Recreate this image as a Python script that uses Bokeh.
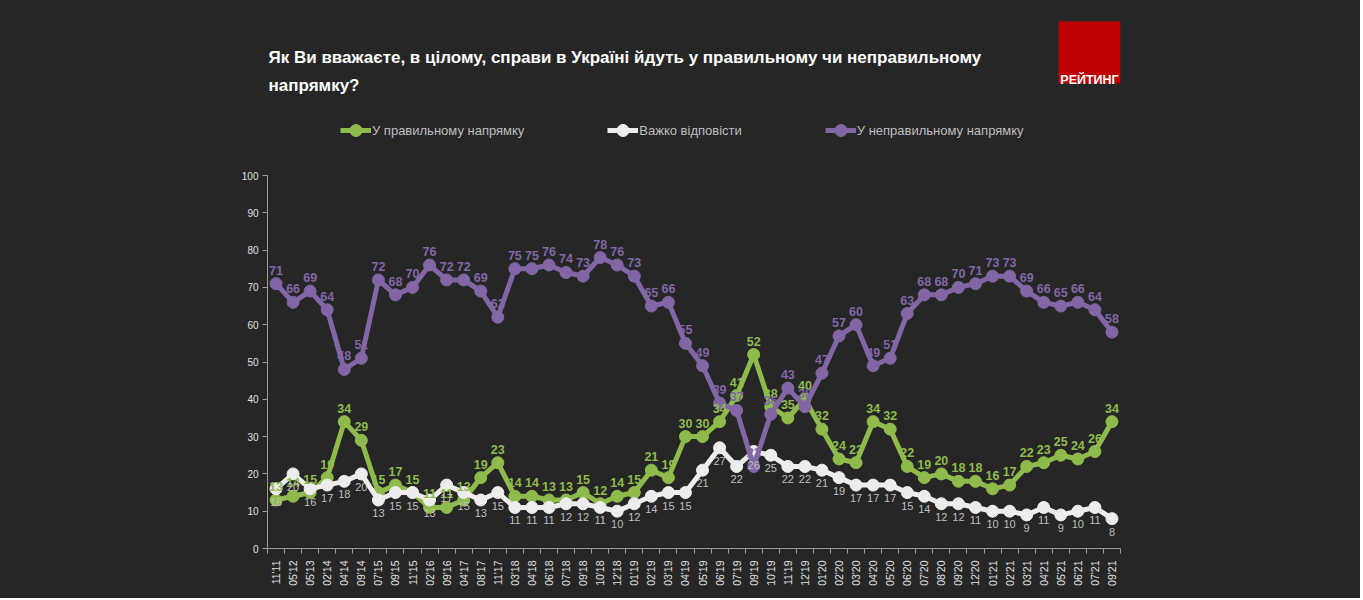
import math
from bokeh.plotting import figure
from bokeh.layouts import column
from bokeh.models import (ColumnDataSource, Range1d, FixedTicker, Label, Legend, LegendItem)
from bokeh.core.properties import value
from bokeh.embed import file_html
from bokeh.resources import INLINE

periods = ["11'11", "05'12", "05'13", "02'14", "04'14", "09'14", "07'15", "09'15", "11'15", "02'16",
           "09'16", "04'17", "08'17", "11'17", "03'18", "04'18", "06'18", "07'18", "09'18", "10'18",
           "12'18", "01'19", "02'19", "03'19", "04'19", "05'19", "06'19", "07'19", "09'19", "10'19",
           "11'19", "12'19", "01'20", "02'20", "03'20", "04'20", "05'20", "06'20", "07'20", "08'20",
           "09'20", "12'20", "01'21", "02'21", "03'21", "04'21", "05'21", "06'21", "07'21", "09'21"]

right_dir = [13, 14, 15, 19, 34, 29, 15, 17, 15, 11,
             11, 13, 19, 23, 14, 14, 13, 13, 15, 12,
             14, 15, 21, 19, 30, 30, 34, 41, 52, 38,
             35, 40, 32, 24, 23, 34, 32, 22, 19, 20,
             18, 18, 16, 17, 22, 23, 25, 24, 26, 34]

hard_to_say = [16, 20, 16, 17, 18, 20, 13, 15, 15, 13,
               17, 15, 13, 15, 11, 11, 11, 12, 12, 11,
               10, 12, 14, 15, 15, 21, 27, 22, 26, 25,
               22, 22, 21, 19, 17, 17, 17, 15, 14, 12,
               12, 11, 10, 10, 9, 11, 9, 10, 11, 8]

wrong_dir = [71, 66, 69, 64, 48, 51, 72, 68, 70, 76,
             72, 72, 69, 62, 75, 75, 76, 74, 73, 78,
             76, 73, 65, 66, 55, 49, 39, 37, 22, 36,
             43, 38, 47, 57, 60, 49, 51, 63, 68, 68,
             70, 71, 73, 73, 69, 66, 65, 66, 64, 58]

series_names = ["У правильному напрямку", "Важко відповісти", "У неправильному напрямку"]
title_lines = ["Як Ви вважаєте, в цілому, справи в Україні йдуть у правильному чи неправильному",
               "напрямку?"]
y_ticks = [0, 10, 20, 30, 40, 50, 60, 70, 80, 90, 100]

BG = "#262626"
GREEN = "#8fbb4c"
WHITE = "#ededed"
PURPLE = "#8266a6"
AXIS = "#9a9a9a"
FONT = "Liberation Sans"

W = 1360
HH = 160                     # header height
FL, FT, FW, FH = 267, 175, 853, 373   # frame position on page (px)
BR = W - FL - FW
n = len(periods)

# ---------------- header (title, logo, legend) ----------------
hdr = figure(frame_width=FW, frame_height=HH, x_range=Range1d(FL, FL + FW), y_range=Range1d(HH, 0),
             output_backend="svg", toolbar_location=None,
             x_axis_location=None, y_axis_location=None,
             min_border_left=FL, min_border_right=BR, min_border_top=0, min_border_bottom=0,
             background_fill_color=BG, border_fill_color=BG, outline_line_color=None)
hdr.xgrid.visible = False
hdr.ygrid.visible = False

hdr.add_layout(Label(x=FL + 1, y=57, text=title_lines[0], text_font=FONT,
                     text_font_style="bold", text_font_size="17px", text_color="white",
                     text_align="left", text_baseline="alphabetic"))
hdr.add_layout(Label(x=FL + 1, y=85, text=title_lines[1], text_font=FONT,
                     text_font_style="bold", text_font_size="17px", text_color="white",
                     text_align="left", text_baseline="alphabetic"))

hdr.quad(left=[1058], right=[1120], top=[21], bottom=[83], fill_color="#c00000", line_color=None)
hdr.add_layout(Label(x=1089, y=79, text="РЕЙТИНГ", text_font=FONT,
                     text_font_style="bold", text_font_size="12.5px", text_color="white",
                     text_align="center", text_baseline="alphabetic"))

items = []
for color, name in zip([GREEN, WHITE, PURPLE], series_names):
    ln = hdr.line(x=[-5000, -4000], y=[-5000, -5000], line_width=5, line_color=color)
    sc = hdr.scatter(x=[-5000], y=[-5000], size=12, fill_color=color, line_color=color)
    items.append(LegendItem(label=name, renderers=[ln, sc]))

legend = Legend(items=items, location=(340 - FL, HH - 145), orientation="horizontal",
                spacing=83, glyph_width=31, glyph_height=30, label_height=30,
                label_standoff=1, padding=0, margin=0,
                border_line_color=None, background_fill_alpha=0,
                label_text_color="#bfbfbf", label_text_font=FONT, label_text_font_size="13px")
hdr.add_layout(legend)

# ---------------- chart ----------------
p = figure(frame_width=FW, frame_height=FH,
           x_range=Range1d(-0.5, n - 0.5), y_range=Range1d(0, 100),
           output_backend="svg", toolbar_location=None,
           min_border_left=FL, min_border_top=FT - HH,
           min_border_right=BR, min_border_bottom=598 - FT - FH,
           background_fill_color=BG, border_fill_color=BG, outline_line_color=None)

p.xgrid.visible = False
p.ygrid.visible = False

xa = p.xaxis[0]
xa.ticker = FixedTicker(ticks=list(range(n)), minor_ticks=[i - 0.5 for i in range(n + 1)])
xa.major_label_overrides = {i: periods[i] for i in range(n)}
xa.major_label_orientation = math.pi / 2
xa.major_tick_line_color = None
xa.major_tick_out = 0
xa.major_tick_in = 0
xa.minor_tick_line_color = AXIS
xa.minor_tick_out = 5
xa.minor_tick_in = 0
xa.axis_line_color = AXIS
xa.major_label_text_color = "#e0e0e0"
xa.major_label_text_font = FONT
xa.major_label_text_font_size = "10.5px"
xa.major_label_standoff = 7

ya = p.yaxis[0]
ya.ticker = FixedTicker(ticks=y_ticks)
ya.minor_tick_line_color = None
ya.major_tick_line_color = AXIS
ya.major_tick_out = 5
ya.major_tick_in = 0
ya.axis_line_color = AXIS
ya.major_label_text_color = "#e0e0e0"
ya.major_label_text_font = FONT
ya.major_label_text_font_size = "10px"
ya.major_label_standoff = 4

xs = list(range(n))
src = ColumnDataSource(dict(
    x=xs,
    r=right_dir, h=hard_to_say, w=wrong_dir,
    rl=[str(v) for v in right_dir],
    hl=[str(v) for v in hard_to_say],
    wl=[str(v) for v in wrong_dir],
))

for col, color in [("r", GREEN), ("h", WHITE), ("w", PURPLE)]:
    p.line("x", col, source=src, line_width=5, line_color=color, line_join="round")
    p.scatter("x", col, source=src, size=12, fill_color=color, line_color=color)

# data labels
p.text("x", "r", text="rl", source=src, text_align="center", text_baseline="bottom",
       y_offset=-9, text_font=value(FONT), text_font_style="bold", text_font_size="12.5px",
       text_color=GREEN)
p.text("x", "h", text="hl", source=src, text_align="center", text_baseline="top",
       y_offset=9, text_font=value(FONT), text_font_size="11px", text_color="#bfbfbf")
p.text("x", "w", text="wl", source=src, text_align="center", text_baseline="bottom",
       y_offset=-9, text_font=value(FONT), text_font_style="bold", text_font_size="12.5px",
       text_color=PURPLE)

layout = column(hdr, p, spacing=0)
layout.styles = {"background-color": BG}

open("out.html", "w").write(file_html(layout, INLINE))
